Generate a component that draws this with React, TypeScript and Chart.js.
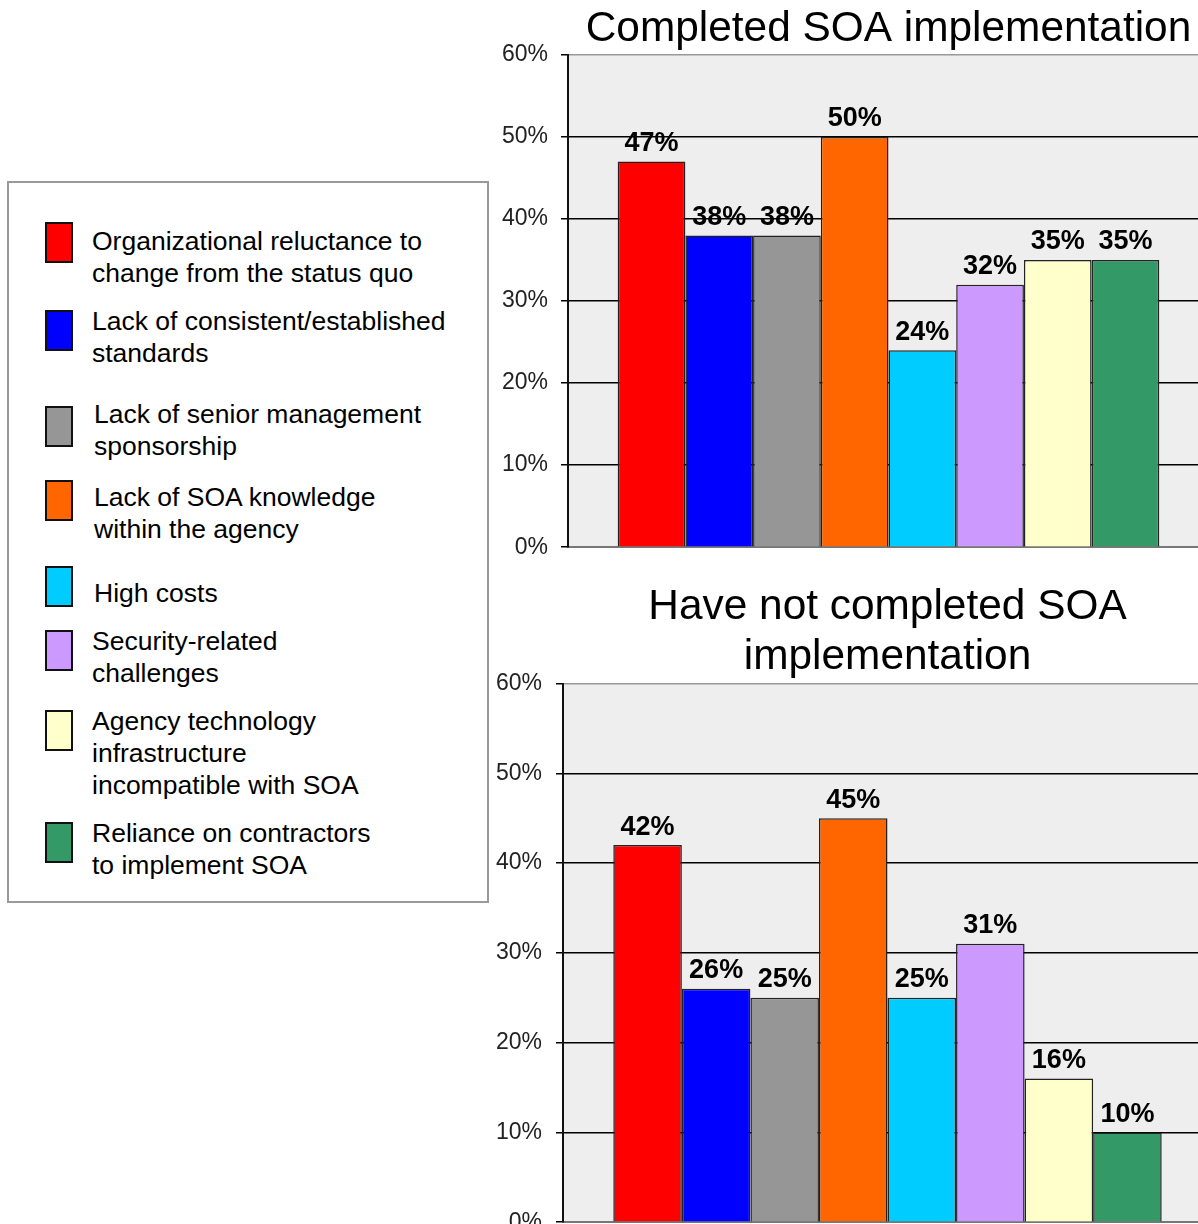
import React, { useEffect, useRef } from 'react';
import { Chart, registerables } from 'chart.js';

Chart.register(...registerables);

// ---------- data ----------
const categories = [
  'Organizational reluctance to change from the status quo',
  'Lack of consistent/established standards',
  'Lack of senior management sponsorship',
  'Lack of SOA knowledge within the agency',
  'High costs',
  'Security-related challenges',
  'Agency technology infrastructure incompatible with SOA',
  'Reliance on contractors to implement SOA',
];
const legendLines = [
  ['Organizational reluctance to', 'change from the status quo'],
  ['Lack of consistent/established', 'standards'],
  ['Lack of senior management', 'sponsorship'],
  ['Lack of SOA knowledge', 'within the agency'],
  ['High costs'],
  ['Security-related', 'challenges'],
  ['Agency technology', 'infrastructure', 'incompatible with SOA'],
  ['Reliance on contractors', 'to implement SOA'],
];
const completedValues = [47, 38, 38, 50, 24, 32, 35, 35];
const notCompletedValues = [42, 26, 25, 45, 25, 31, 16, 10];
const seriesColors = ['#FF0000', '#0000FF', '#969696', '#FF6600', '#00CCFF', '#CC99FF', '#FFFFCC', '#339966'];
const yMax = 60;
const yStep = 10;
const completedTitle = 'Completed SOA implementation';
const notCompletedTitle = ['Have not completed SOA', 'implementation'];

// ---------- layout (not data) ----------
const legendTextTop = [225, 305, 398, 481, 577, 625, 705, 817];
const legendTextLeft = [92, 92, 94, 94, 94, 92, 92, 92];
const legendSwatchTop = [222, 310, 406, 480, 566, 630, 710, 822];

const FONT = '"Liberation Sans", Arial, Helvetica, sans-serif';

const bgPlugin = {
  id: 'plotBg',
  beforeDraw(chart: any) {
    const { ctx, chartArea } = chart;
    if (!chartArea) return;
    ctx.save();
    ctx.fillStyle = '#EEEEEE';
    ctx.fillRect(chartArea.left, chartArea.top, chartArea.right - chartArea.left, chartArea.bottom - chartArea.top);
    ctx.restore();
  },
};

const valueLabelPlugin = {
  id: 'valueLabels',
  afterDatasetsDraw(chart: any) {
    const { ctx } = chart;
    ctx.save();
    ctx.font = `bold 27px ${FONT}`;
    ctx.fillStyle = '#000';
    ctx.textAlign = 'center';
    ctx.textBaseline = 'middle';
    chart.data.datasets.forEach((ds: any, i: number) => {
      const meta = chart.getDatasetMeta(i);
      meta.data.forEach((el: any, j: number) => {
        const v = ds.data[j];
        ctx.fillText(v + '%', el.x, el.y - 18);
      });
    });
    ctx.restore();
  },
};

interface Geo {
  axisWidth: number;
  padRight: number;
  padBottom: number;
  titlePadTop: number;
  titlePadBottom: number;
  titleLineHeight: number;
  tickPad: number;
}

function makeConfig(values: number[], title: string | string[], g: Geo): any {
  return {
    type: 'bar',
    data: {
      labels: [''],
      datasets: categories.map((c, i) => ({
        label: c,
        data: [values[i]],
        backgroundColor: seriesColors[i],
        borderColor: '#222',
        borderWidth: 1.5,
        categoryPercentage: 0.845,
        barPercentage: 1,
      })),
    },
    options: {
      responsive: false,
      animation: false,
      devicePixelRatio: 1,
      layout: { padding: { left: 0, right: g.padRight, top: 0, bottom: g.padBottom } },
      plugins: {
        legend: { display: false },
        tooltip: { enabled: false },
        title: {
          display: true,
          text: title,
          fullSize: false,
          color: '#000',
          font: { family: FONT, size: 42.4, weight: 'normal', lineHeight: g.titleLineHeight },
          padding: { top: g.titlePadTop, bottom: g.titlePadBottom },
        },
      },
      scales: {
        x: {
          type: 'category',
          offset: true,
          grid: { display: false, drawTicks: false },
          ticks: { display: false },
          border: { display: true, color: '#777', width: 2 },
          afterFit: (s: any) => {
            s.height = 0;
          },
        },
        y: {
          min: 0,
          max: yMax,
          ticks: {
            stepSize: yStep,
            callback: (v: any) => v + '%',
            color: '#222',
            padding: g.tickPad,
            font: { family: FONT, size: 23 },
          },
          grid: {
            color: (ctx: any) => (ctx.tick && ctx.tick.value === yMax ? '#999' : '#000'),
            lineWidth: 1.5,
            drawTicks: true,
            tickLength: 7,
            tickColor: '#000',
          },
          border: { display: true, color: '#111', width: 2 },
          afterFit: (s: any) => {
            s.width = g.axisWidth;
          },
        },
      },
    },
    plugins: [bgPlugin, valueLabelPlugin],
  };
}

function BarChart(props: { values: number[]; title: string | string[]; geo: Geo; w: number; h: number; left: number; top: number }) {
  const ref = useRef<HTMLCanvasElement | null>(null);
  useEffect(() => {
    if (!ref.current) return;
    const chart = new Chart(ref.current, makeConfig(props.values, props.title, props.geo));
    return () => chart.destroy();
  }, []);
  return (
    <canvas
      ref={ref}
      width={props.w}
      height={props.h}
      style={{ position: 'absolute', left: props.left, top: props.top, width: props.w, height: props.h }}
    />
  );
}

function Legend() {
  return (
    <div
      style={{
        position: 'absolute',
        left: 7,
        top: 181,
        width: 482,
        height: 722,
        boxSizing: 'border-box',
        border: '2px solid #999',
        background: '#fff',
      }}
    >
      {categories.map((c, i) => (
        <React.Fragment key={c}>
          <div
            style={{
              position: 'absolute',
              left: 45 - 9,
              top: legendSwatchTop[i] - 183,
              width: 28,
              height: 41,
              boxSizing: 'border-box',
              border: '2px solid #111',
              background: seriesColors[i],
            }}
          />
          <div
            style={{
              position: 'absolute',
              left: legendTextLeft[i] - 9,
              top: legendTextTop[i] - 183,
              font: `26.5px ${FONT}`,
              lineHeight: '32px',
              color: '#000',
              whiteSpace: 'nowrap',
            }}
          >
            {legendLines[i].map((ln, k) => (
              <div key={k}>{ln}</div>
            ))}
          </div>
        </React.Fragment>
      ))}
    </div>
  );
}

export default function App() {
  const geoTop: Geo = {
    axisWidth: 88,
    padRight: 31,
    padBottom: 13,
    titlePadTop: 4,
    titlePadBottom: 0,
    titleLineHeight: 1.2,
    tickPad: 13,
  };
  const geoBottom: Geo = {
    axisWidth: 83,
    padRight: 28,
    padBottom: 11,
    titlePadTop: 22,
    titlePadBottom: 1.5,
    titleLineHeight: 50 / 42.4,
    tickPad: 14,
  };
  return (
    <div
      style={{
        position: 'absolute',
        left: 0,
        top: 0,
        width: 1198,
        height: 1224,
        overflow: 'hidden',
        background: '#fff',
      }}
    >
      <Legend />
      <BarChart values={completedValues} title={completedTitle} geo={geoTop} w={760} h={574} left={480} top={0} />
      <BarChart values={notCompletedValues} title={notCompletedTitle} geo={geoBottom} w={760} h={690} left={480} top={560} />
    </div>
  );
}
